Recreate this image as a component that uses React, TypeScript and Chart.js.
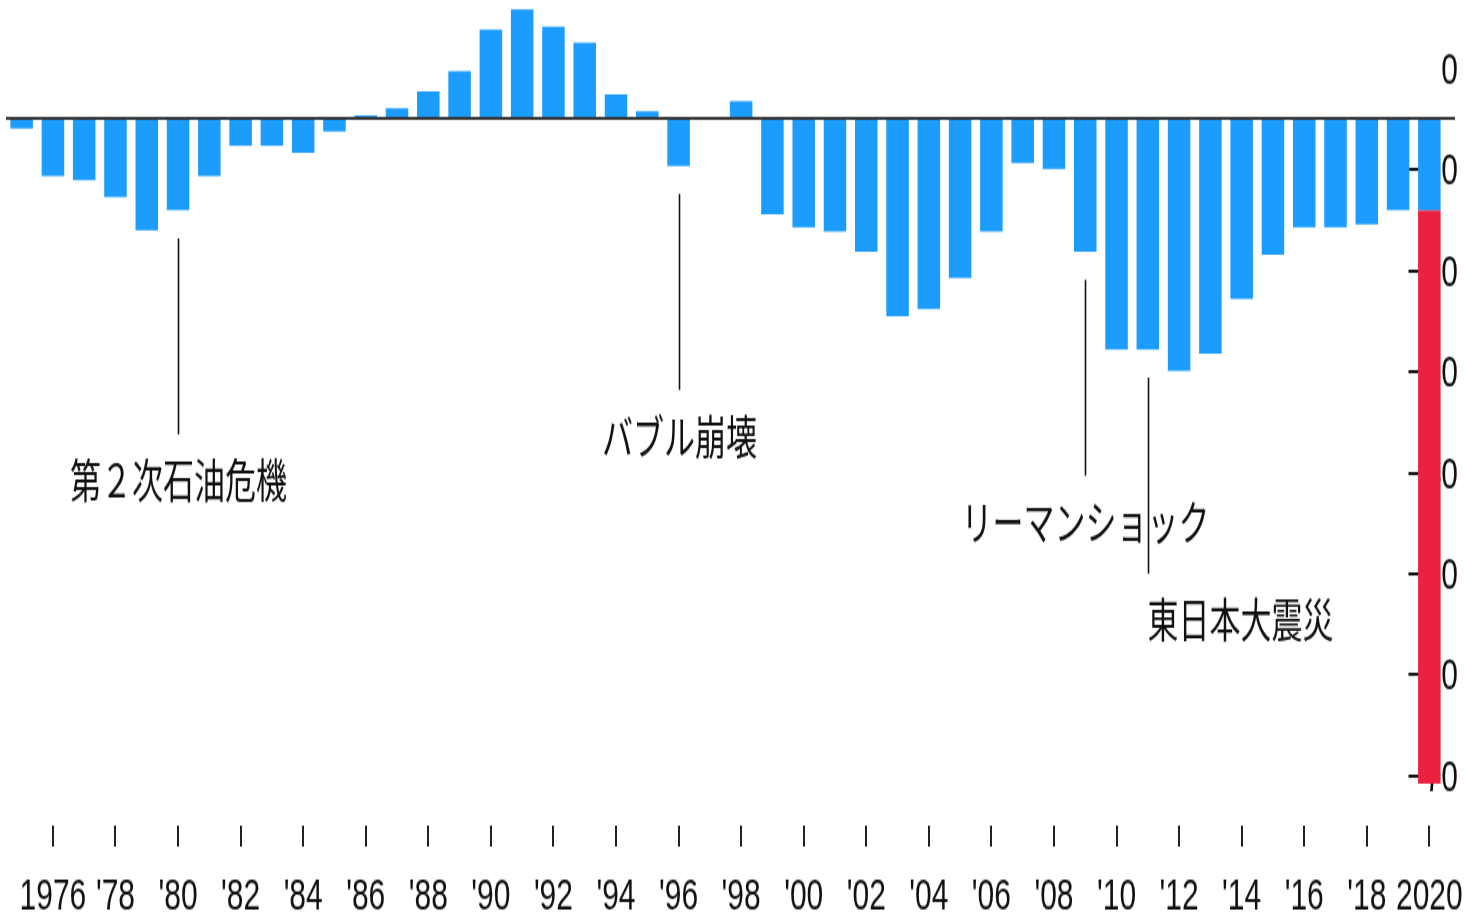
import React, { useEffect, useRef } from 'react';
import { Chart, registerables } from 'chart.js';

Chart.register(...registerables);

// ---- data ----
const years = [
  '1975', '1976', '1977', '1978', '1979', '1980', '1981', '1982', '1983', '1984',
  '1985', '1986', '1987', '1988', '1989', '1990', '1991', '1992', '1993', '1994',
  '1995', '1996', '1997', '1998', '1999', '2000', '2001', '2002', '2003', '2004',
  '2005', '2006', '2007', '2008', '2009', '2010', '2011', '2012', '2013', '2014',
  '2015', '2016', '2017', '2018', '2019', '2020',
];

const tickLabels = [
  '', '1976', '', "'78", '', "'80", '', "'82", '', "'84",
  '', "'86", '', "'88", '', "'90", '', "'92", '', "'94",
  '', "'96", '', "'98", '', "'00", '', "'02", '', "'04",
  '', "'06", '', "'08", '', "'10", '', "'12", '', "'14",
  '', "'16", '', "'18", '', '2020',
];

const blueValues = [
  -1.0, -5.7, -6.1, -7.8, -11.1, -9.1, -5.7, -2.7, -2.7, -3.4,
  -1.3, 0.3, 1.0, 2.7, 4.7, 8.8, 10.8, 9.1, 7.5, 2.4,
  0.7, -4.7, 0, 1.7, -9.5, -10.8, -11.2, -13.2, -19.6, -18.9,
  -15.8, -11.2, -4.4, -5.0, -13.2, -22.9, -22.9, -25.0, -23.3, -17.9,
  -13.5, -10.8, -10.8, -10.5, -9.1, -9.1,
];

const redValues = [
  null, null, null, null, null, null, null, null, null, null,
  null, null, null, null, null, null, null, null, null, null,
  null, null, null, null, null, null, null, null, null, null,
  null, null, null, null, null, null, null, null, null, null,
  null, null, null, null, null, -56.8,
];

const yTicks = [0, -10, -20, -30, -40, -50, -60, -70];
const yTickLabels = ['0', '−10', '−20', '−30', '−40', '−50', '−60', '−70'];

const noteYears = ['1980', '1996', '2009', '2011'];
const noteLabels = ['第２次石油危機', 'バブル崩壊', 'リーマンショック', '東日本大震災'];
const noteAlign = ['center', 'center', 'center', 'left'];

// ---- layout (canvas drawn at reduced height, then stretched vertically) ----
const W = 1472;
const H_FULL = 917;
const H = 612;
const SY = H_FULL / H;

const BLUE = '#1c9cfd';
const RED = '#ec2141';
const NUM_FONT = '"Liberation Sans", Arial, Helvetica, sans-serif';
const JP_FONT = '"Noto Sans CJK JP", sans-serif';

const notesPlugin = {
  id: 'notes',
  afterDatasetsDraw(chart: any) {
    const { ctx } = chart;
    const x = chart.scales.x;
    const y = chart.scales.y;
    ctx.save();
    noteYears.forEach((yr, i) => {
      const idx = years.indexOf(yr);
      const total = (blueValues[idx] ?? 0) + ((redValues[idx] as number | null) ?? 0);
      const px = Math.round(x.getPixelForValue(idx)) + 0.5;
      const barEnd = y.getPixelForValue(total);
      const y0 = barEnd + 18.7;
      const y1 = y0 + 130.8;
      ctx.font = `31px ${JP_FONT}`;
      ctx.fillStyle = '#111';
      ctx.textAlign = noteAlign[i];
      ctx.textBaseline = 'middle';
      ctx.fillText(noteLabels[i], noteAlign[i] === 'left' ? px - 1 : px, y1 + 30.5);
      ctx.strokeStyle = '#111';
      ctx.lineWidth = 1.6;
      ctx.beginPath();
      ctx.moveTo(px, y0);
      ctx.lineTo(px, y1);
      ctx.stroke();
    });
    ctx.restore();
  },
};

export default function App() {
  const canvasRef = useRef<HTMLCanvasElement | null>(null);

  useEffect(() => {
    if (!canvasRef.current) return;
    const chart = new Chart(canvasRef.current, {
      type: 'bar',
      data: {
        labels: years,
        datasets: [
          {
            data: blueValues,
            backgroundColor: BLUE,
            borderWidth: 0,
            barPercentage: 0.72,
            categoryPercentage: 1,
          },
          {
            data: redValues as any,
            backgroundColor: RED,
            borderWidth: 0,
            barPercentage: 0.72,
            categoryPercentage: 1,
          },
        ],
      },
      options: {
        animation: false,
        responsive: true,
        maintainAspectRatio: false,
        devicePixelRatio: 1,
        layout: { padding: { left: 6, right: 17, top: 0, bottom: 0 } },
        plugins: {
          legend: { display: false },
          tooltip: { enabled: false },
          title: { display: false },
        },
        scales: {
          x: {
            stacked: true,
            offset: true,
            border: { display: false },
            grid: {
              display: true,
              offset: false,
              drawOnChartArea: false,
              drawTicks: true,
              tickLength: 14.5,
              lineWidth: 2,
              color: (c: any) => (tickLabels[c.index] ? '#222' : 'rgba(0,0,0,0)'),
            },
            ticks: {
              autoSkip: false,
              maxRotation: 0,
              minRotation: 0,
              padding: 16,
              color: '#111',
              font: { family: NUM_FONT, size: 30 },
              callback: (_v: any, i: number) => tickLabels[i],
            },
            afterFit: (s: any) => {
              s.height = H - 550.5;
              s.paddingLeft = 0;
              s.paddingRight = 0;
            },
          },
          y: {
            stacked: true,
            position: 'right',
            min: -70,
            max: 11.74,
            border: { display: false },
            grid: {
              drawOnChartArea: true,
              drawTicks: true,
              tickLength: 10,
              lineWidth: 2,
              color: (c: any) => (c.tick && c.tick.value === 0 ? '#333' : 'rgba(0,0,0,0)'),
            },
            afterBuildTicks: (s: any) => {
              s.ticks = yTicks.map((v) => ({ value: v }));
            },
            afterFit: (s: any) => {
              s.width = 10;
              s.paddingTop = 0;
              s.paddingBottom = 0;
            },
            ticks: {
              mirror: true,
              crossAlign: 'near',
              padding: 13,
              labelOffset: -31.2,
              color: '#111',
              font: { family: NUM_FONT, size: 30 },
              callback: (v: any) => {
                const k = yTicks.indexOf(v);
                return k >= 0 ? yTickLabels[k] : String(v);
              },
            },
          },
        },
      },
      plugins: [notesPlugin],
    } as any);
    return () => chart.destroy();
  }, []);

  return (
    <div
      style={{
        position: 'fixed',
        left: 0,
        top: 0,
        width: W,
        height: H_FULL,
        overflow: 'hidden',
        background: '#fff',
      }}
    >
      <div
        style={{
          position: 'relative',
          width: W,
          height: H,
          transform: `scaleY(${SY})`,
          transformOrigin: '0 0',
        }}
      >
        <canvas ref={canvasRef} />
      </div>
    </div>
  );
}
